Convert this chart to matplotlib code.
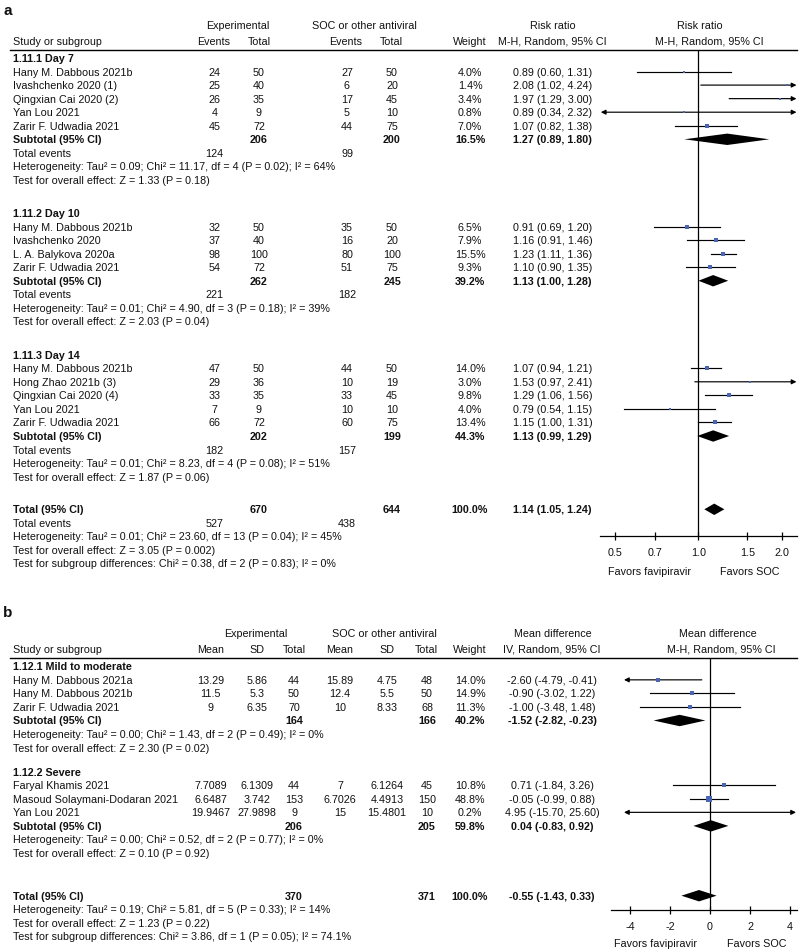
import numpy as np
import matplotlib.pyplot as plt
from matplotlib.ticker import NullLocator

plt.rcParams['font.family'] = ['Liberation Sans', 'DejaVu Sans']
plt.rcParams['axes.unicode_minus'] = False

# ---------------- panel a: risk ratio (events) ----------------
d7_study = ["Hany M. Dabbous 2021b", "Ivashchenko 2020 (1)", "Qingxian Cai 2020 (2)",
            "Yan Lou 2021", "Zarir F. Udwadia 2021"]
d7_exp_ev = [24, 25, 26, 4, 45]
d7_exp_tot = [50, 40, 35, 9, 72]
d7_soc_ev = [27, 6, 17, 5, 44]
d7_soc_tot = [50, 20, 45, 10, 75]
d7_weight = [4.0, 1.4, 3.4, 0.8, 7.0]
d7_rr = [0.89, 2.08, 1.97, 0.89, 1.07]
d7_lo = [0.60, 1.02, 1.29, 0.34, 0.82]
d7_hi = [1.31, 4.24, 3.00, 2.32, 1.38]
d7_sub = [16.5, 1.27, 0.89, 1.80]
d7_het = "Tau² = 0.09; Chi² = 11.17, df = 4 (P = 0.02); I² = 64%"
d7_z = "Z = 1.33 (P = 0.18)"

d10_study = ["Hany M. Dabbous 2021b", "Ivashchenko 2020", "L. A. Balykova 2020a",
             "Zarir F. Udwadia 2021"]
d10_exp_ev = [32, 37, 98, 54]
d10_exp_tot = [50, 40, 100, 72]
d10_soc_ev = [35, 16, 80, 51]
d10_soc_tot = [50, 20, 100, 75]
d10_weight = [6.5, 7.9, 15.5, 9.3]
d10_rr = [0.91, 1.16, 1.23, 1.10]
d10_lo = [0.69, 0.91, 1.11, 0.90]
d10_hi = [1.20, 1.46, 1.36, 1.35]
d10_sub = [39.2, 1.13, 1.00, 1.28]
d10_het = "Tau² = 0.01; Chi² = 4.90, df = 3 (P = 0.18); I² = 39%"
d10_z = "Z = 2.03 (P = 0.04)"

d14_study = ["Hany M. Dabbous 2021b", "Hong Zhao 2021b (3)", "Qingxian Cai 2020 (4)",
             "Yan Lou 2021", "Zarir F. Udwadia 2021"]
d14_exp_ev = [47, 29, 33, 7, 66]
d14_exp_tot = [50, 36, 35, 9, 72]
d14_soc_ev = [44, 10, 33, 10, 60]
d14_soc_tot = [50, 19, 45, 10, 75]
d14_weight = [14.0, 3.0, 9.8, 4.0, 13.4]
d14_rr = [1.07, 1.53, 1.29, 0.79, 1.15]
d14_lo = [0.94, 0.97, 1.06, 0.54, 1.00]
d14_hi = [1.21, 2.41, 1.56, 1.15, 1.31]
d14_sub = [44.3, 1.13, 0.99, 1.29]
d14_het = "Tau² = 0.01; Chi² = 8.23, df = 4 (P = 0.08); I² = 51%"
d14_z = "Z = 1.87 (P = 0.06)"

a_total = [100.0, 1.14, 1.05, 1.24]
a_total_het = "Tau² = 0.01; Chi² = 23.60, df = 13 (P = 0.04); I² = 45%"
a_total_z = "Z = 3.05 (P = 0.002)"
a_subgroup = "Chi² = 0.38, df = 2 (P = 0.83); I² = 0%"
a_ticks = [0.5, 0.7, 1.0, 1.5, 2.0]
a_ticklabels = ["0.5", "0.7", "1.0", "1.5", "2.0"]

# ---------------- panel b: mean difference ----------------
mild_study = ["Hany M. Dabbous 2021a", "Hany M. Dabbous 2021b", "Zarir F. Udwadia 2021"]
mild_exp_mean = [13.29, 11.5, 9]
mild_exp_sd = [5.86, 5.3, 6.35]
mild_exp_tot = [44, 50, 70]
mild_soc_mean = [15.89, 12.4, 10]
mild_soc_sd = [4.75, 5.5, 8.33]
mild_soc_tot = [48, 50, 68]
mild_weight = [14.0, 14.9, 11.3]
mild_md = [-2.60, -0.90, -1.00]
mild_lo = [-4.79, -3.02, -3.48]
mild_hi = [-0.41, 1.22, 1.48]
mild_sub = [40.2, -1.52, -2.82, -0.23]
mild_het = "Tau² = 0.00; Chi² = 1.43, df = 2 (P = 0.49); I² = 0%"
mild_z = "Z = 2.30 (P = 0.02)"

sev_study = ["Faryal Khamis 2021", "Masoud Solaymani-Dodaran 2021", "Yan Lou 2021"]
sev_exp_mean = [7.7089, 6.6487, 19.9467]
sev_exp_sd = [6.1309, 3.742, 27.9898]
sev_exp_tot = [44, 153, 9]
sev_soc_mean = [7, 6.7026, 15]
sev_soc_sd = [6.1264, 4.4913, 15.4801]
sev_soc_tot = [45, 150, 10]
sev_weight = [10.8, 48.8, 0.2]
sev_md = [0.71, -0.05, 4.95]
sev_lo = [-1.84, -0.99, -15.70]
sev_hi = [3.26, 0.88, 25.60]
sev_sub = [59.8, 0.04, -0.83, 0.92]
sev_het = "Tau² = 0.00; Chi² = 0.52, df = 2 (P = 0.77); I² = 0%"
sev_z = "Z = 0.10 (P = 0.92)"

b_total = [100.0, -0.55, -1.43, 0.33]
b_total_het = "Tau² = 0.19; Chi² = 5.81, df = 5 (P = 0.33); I² = 14%"
b_total_z = "Z = 1.23 (P = 0.22)"
b_subgroup = "Chi² = 3.86, df = 1 (P = 0.05); I² = 74.1%"
b_ticks = [-4, -2, 0, 2, 4]

# ---------------- layout ----------------
W, H = 800, 953
FS = 7.75
INK = '#111111'
BLUE = '#4a66b2'
STEP = 13.55

fig = plt.figure(figsize=(W / 100, H / 100), dpi=100)
bg = fig.add_axes([0, 0, 1, 1])
bg.set_xlim(0, W)
bg.set_ylim(H, 0)
bg.axis('off')


def txt(x, y, s, ha='center', bold=False, size=FS):
    bg.text(x, y, s, ha=ha, va='center', fontsize=size, color=INK,
            fontweight='bold' if bold else 'normal')


def forest_axes(x0, x1, ytop, ybot):
    ax = fig.add_axes([x0 / W, 1 - ybot / H, (x1 - x0) / W, (ybot - ytop) / H])
    ax.set_ylim(ybot, ytop)
    ax.patch.set_alpha(0)
    for s in ['top', 'left', 'right']:
        ax.spines[s].set_visible(False)
    ax.spines['bottom'].set_linewidth(0.9)
    ax.set_yticks([])
    ax.tick_params(axis='x', direction='inout', length=6, width=0.9,
                   labelsize=FS, labelcolor=INK, pad=5)
    return ax


def ci(ax, y, est, lo, hi, w, clip):
    x0, x1 = max(lo, clip[0]), min(hi, clip[1])
    left, right = lo < clip[0], hi > clip[1]
    if left or right:
        style = '<|-|>' if (left and right) else ('<|-' if left else '-|>')
        ax.annotate('', xy=(x1, y), xytext=(x0, y), annotation_clip=False,
                    arrowprops=dict(arrowstyle=style, color='k', lw=0.85,
                                    mutation_scale=7, shrinkA=0, shrinkB=0))
    else:
        ax.plot([x0, x1], [y, y], color='k', lw=0.85, clip_on=False)
    side = 1.5 + 0.62 * np.sqrt(w)   # square side in px
    ax.plot(est, y, 's', ms=side * 0.72, color=BLUE, mew=0, zorder=3)


def diamond(ax, y, est, lo, hi, h=5.7):
    ax.fill([lo, est, hi, est], [y, y - h, y, y + h], color='k', lw=0, zorder=3)


# ================= panel a =================
txt(3, 11, "a", ha='left', bold=True, size=11)
txt(238, 26, "Experimental")
txt(364, 26, "SOC or other antiviral")
txt(553, 26, "Risk ratio")
txt(700, 26, "Risk ratio")
txt(13, 42, "Study or subgroup", ha='left')
txt(214, 42, "Events")
txt(259, 42, "Total")
txt(346, 42, "Events")
txt(391, 42, "Total")
txt(470, 42, "Weight")
txt(552, 42, "M-H, Random, 95% CI")
txt(709, 42, "M-H, Random, 95% CI")
bg.plot([10, 797], [51, 51], color='k', lw=1.0)

axa = forest_axes(600, 797, 51, 537.3)
axa.set_xscale('log')
axa.set_xlim(0.442, 2.265)
axa.set_xticks(a_ticks)
axa.set_xticklabels(a_ticklabels)
axa.xaxis.set_minor_locator(NullLocator())
axa.axvline(1, color='k', lw=0.9)
a_clip = (0.445, 2.255)

a_groups = [
    ("1.11.1 Day 7", d7_study, d7_exp_ev, d7_exp_tot, d7_soc_ev, d7_soc_tot,
     d7_weight, d7_rr, d7_lo, d7_hi, d7_sub, d7_het, d7_z),
    ("1.11.2 Day 10", d10_study, d10_exp_ev, d10_exp_tot, d10_soc_ev, d10_soc_tot,
     d10_weight, d10_rr, d10_lo, d10_hi, d10_sub, d10_het, d10_z),
    ("1.11.3 Day 14", d14_study, d14_exp_ev, d14_exp_tot, d14_soc_ev, d14_soc_tot,
     d14_weight, d14_rr, d14_lo, d14_hi, d14_sub, d14_het, d14_z),
]
a_y0 = [59, 214, 355.7]

for (name, st, ee, et, se, stt, wt, rr, lo, hi, sub, het, z), y0 in zip(a_groups, a_y0):
    txt(13, y0, name, ha='left', bold=True)
    for i in range(len(st)):
        y = y0 + STEP * (i + 1)
        txt(13, y, st[i], ha='left')
        txt(214.5, y, str(ee[i]))
        txt(259, y, str(et[i]))
        txt(347, y, str(se[i]))
        txt(392, y, str(stt[i]))
        txt(470, y, f"{wt[i]:.1f}%")
        txt(552.5, y, f"{rr[i]:.2f} ({lo[i]:.2f}, {hi[i]:.2f})")
        ci(axa, y, rr[i], lo[i], hi[i], wt[i], a_clip)
    y = y0 + STEP * (len(st) + 1)
    txt(13, y, "Subtotal (95% CI)", ha='left', bold=True)
    txt(259, y, str(sum(et)), bold=True)
    txt(392, y, str(sum(stt)), bold=True)
    txt(470, y, f"{sub[0]:.1f}%", bold=True)
    txt(552.5, y, f"{sub[1]:.2f} ({sub[2]:.2f}, {sub[3]:.2f})", bold=True)
    diamond(axa, y, sub[1], sub[2], sub[3])
    txt(13, y + STEP, "Total events", ha='left')
    txt(214.5, y + STEP, str(sum(ee)))
    txt(347, y + STEP, str(sum(se)))
    txt(13, y + 2 * STEP, "Heterogeneity: " + het, ha='left')
    txt(13, y + 3 * STEP, "Test for overall effect: " + z, ha='left')

y = 510.3
txt(13, y, "Total (95% CI)", ha='left', bold=True)
txt(259, y, str(sum(sum(g[3]) for g in a_groups)), bold=True)
txt(392, y, str(sum(sum(g[5]) for g in a_groups)), bold=True)
txt(470, y, f"{a_total[0]:.1f}%", bold=True)
txt(552.5, y, f"{a_total[1]:.2f} ({a_total[2]:.2f}, {a_total[3]:.2f})", bold=True)
diamond(axa, y, a_total[1], a_total[2], a_total[3])
txt(13, y + STEP, "Total events", ha='left')
txt(214.5, y + STEP, str(sum(sum(g[2]) for g in a_groups)))
txt(347, y + STEP, str(sum(sum(g[4]) for g in a_groups)))
txt(13, y + 2 * STEP, "Heterogeneity: " + a_total_het, ha='left')
txt(13, y + 3 * STEP, "Test for overall effect: " + a_total_z, ha='left')
txt(13, y + 4 * STEP, "Test for subgroup differences: " + a_subgroup, ha='left')
txt(649, 571.7, "Favors favipiravir")
txt(750, 571.7, "Favors SOC")

# ================= panel b =================
txt(3, 613, "b", ha='left', bold=True, size=11)
txt(256, 634, "Experimental")
txt(384, 634, "SOC or other antiviral")
txt(553, 634, "Mean difference")
txt(718, 634, "Mean difference")
txt(13, 650, "Study or subgroup", ha='left')
txt(211, 650, "Mean")
txt(257, 650, "SD")
txt(294, 650, "Total")
txt(340, 650, "Mean")
txt(387, 650, "SD")
txt(426, 650, "Total")
txt(470, 650, "Weight")
txt(552, 650, "IV, Random, 95% CI")
txt(721, 650, "M-H, Random, 95% CI")
bg.plot([10, 797], [659, 659], color='k', lw=1.0)

axb = forest_axes(611, 797, 659, 910.7)
axb.set_xlim(-4.95, 4.35)
axb.set_xticks(b_ticks)
axb.set_xticklabels([str(t) for t in b_ticks])
axb.axvline(0, color='k', lw=0.9)
b_clip = (-4.3, 4.3)

b_groups = [
    ("1.12.1 Mild to moderate", mild_study, mild_exp_mean, mild_exp_sd, mild_exp_tot,
     mild_soc_mean, mild_soc_sd, mild_soc_tot, mild_weight, mild_md, mild_lo, mild_hi,
     mild_sub, mild_het, mild_z),
    ("1.12.2 Severe", sev_study, sev_exp_mean, sev_exp_sd, sev_exp_tot,
     sev_soc_mean, sev_soc_sd, sev_soc_tot, sev_weight, sev_md, sev_lo, sev_hi,
     sev_sub, sev_het, sev_z),
]
b_y0 = [667.3, 772.7]

for (name, st, em, es, et, sm, ss, stt, wt, md, lo, hi, sub, het, z), y0 in zip(b_groups, b_y0):
    txt(13, y0, name, ha='left', bold=True)
    for i in range(len(st)):
        y = y0 + STEP * (i + 1)
        txt(13, y, st[i], ha='left')
        txt(210.5, y, f"{em[i]:g}")
        txt(257, y, f"{es[i]:g}")
        txt(294, y, str(et[i]))
        txt(340, y, f"{sm[i]:g}")
        txt(387, y, f"{ss[i]:g}")
        txt(427, y, str(stt[i]))
        txt(470, y, f"{wt[i]:.1f}%")
        txt(552, y, f"{md[i]:.2f} ({lo[i]:.2f}, {hi[i]:.2f})")
        ci(axb, y, md[i], lo[i], hi[i], wt[i], b_clip)
    y = y0 + STEP * (len(st) + 1)
    txt(13, y, "Subtotal (95% CI)", ha='left', bold=True)
    txt(294, y, str(sum(et)), bold=True)
    txt(427, y, str(sum(stt)), bold=True)
    txt(470, y, f"{sub[0]:.1f}%", bold=True)
    txt(552, y, f"{sub[1]:.2f} ({sub[2]:.2f}, {sub[3]:.2f})", bold=True)
    diamond(axb, y, sub[1], sub[2], sub[3])
    txt(13, y + STEP, "Heterogeneity: " + het, ha='left')
    txt(13, y + 2 * STEP, "Test for overall effect: " + z, ha='left')

y = 896.7
txt(13, y, "Total (95% CI)", ha='left', bold=True)
txt(294, y, str(sum(sum(g[4]) for g in b_groups)), bold=True)
txt(427, y, str(sum(sum(g[7]) for g in b_groups)), bold=True)
txt(470, y, f"{b_total[0]:.1f}%", bold=True)
txt(552, y, f"{b_total[1]:.2f} ({b_total[2]:.2f}, {b_total[3]:.2f})", bold=True)
diamond(axb, y, b_total[1], b_total[2], b_total[3])
txt(13, y + STEP, "Heterogeneity: " + b_total_het, ha='left')
txt(13, y + 2 * STEP, "Test for overall effect: " + b_total_z, ha='left')
txt(13, y + 3 * STEP, "Test for subgroup differences: " + b_subgroup, ha='left')
txt(655, 944, "Favors favipiravir")
txt(757, 944, "Favors SOC")

fig.savefig("out.png", dpi=100)
